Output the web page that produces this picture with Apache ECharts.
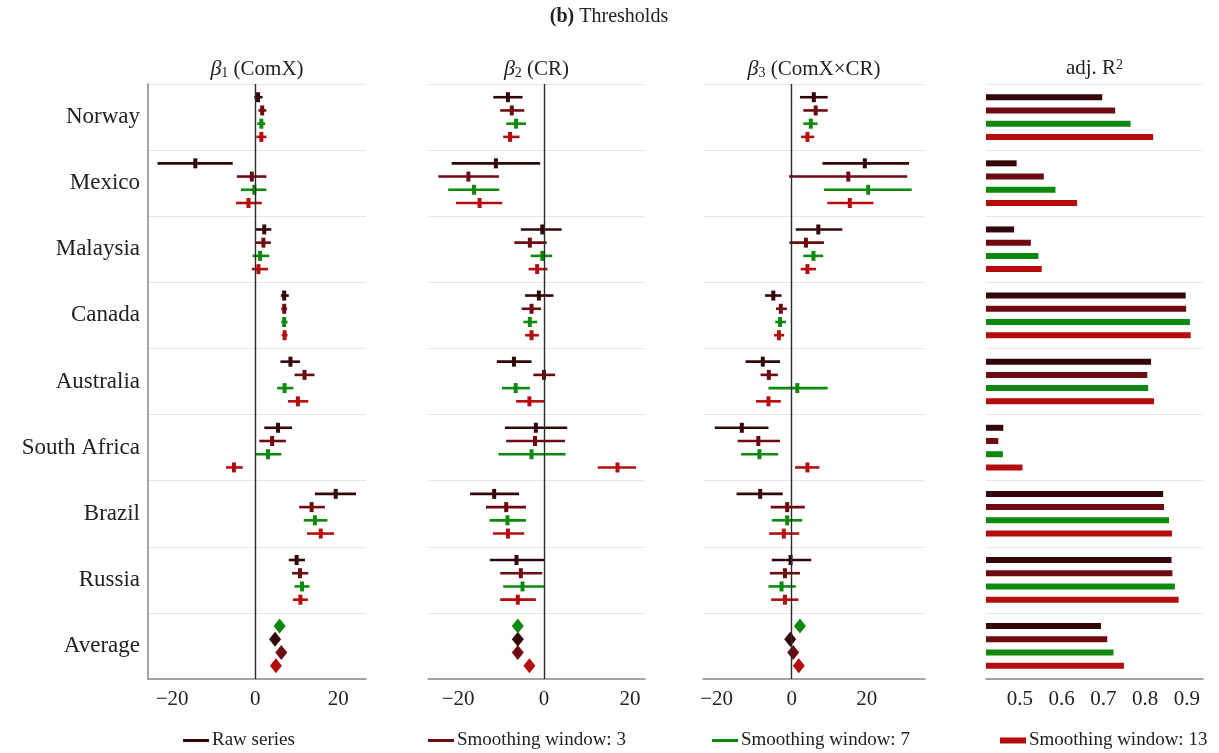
<!DOCTYPE html>
<html><head><meta charset="utf-8">
<script src="https://cdn.jsdelivr.net/npm/echarts@6/dist/echarts.min.js"></script>
<style>html,body{margin:0;padding:0;background:#fff}#c{width:1219px;height:753px}</style>
</head><body><div id="c"></div>
<script>
const countries = ['Norway','Mexico','Malaysia','Canada','Australia','South Africa','Brazil','Russia','Average'];
const seriesNames = ['Raw series','Smoothing window: 3','Smoothing window: 7','Smoothing window: 13'];
const xTicks = [-20, 0, 20];
const r2Ticks = [0.5, 0.6, 0.7, 0.8, 0.9];

// [estimate, lower, upper] for Norway..Russia
const b1Raw = [[0.7,-0.2,1.8],[-14.4,-23.5,-5.4],[2.2,0.2,3.9],[7.0,6.2,8.1],[8.5,6.1,10.8],[5.5,2.2,8.9],[19.4,14.4,24.3],[10.0,8.1,12.0]];
const b1W3 = [[1.7,0.8,2.7],[-0.8,-4.4,2.7],[2.0,0.1,3.8],[7.0,6.3,7.7],[11.9,9.5,14.3],[4.1,1.0,7.4],[13.6,10.6,16.8],[10.8,8.9,12.8]];
const b1W7 = [[1.5,0.5,2.4],[-0.2,-3.4,2.7],[1.2,-0.6,3.4],[7.0,6.3,7.8],[7.1,5.3,9.2],[3.1,0.0,6.3],[14.4,11.7,17.4],[11.3,9.5,13.1]];
const b1W13 = [[1.5,0.3,2.7],[-1.6,-4.6,1.6],[0.8,-0.8,3.1],[7.1,6.4,7.8],[10.3,7.9,12.8],[-5.1,-7.0,-3.0],[15.8,12.5,19.0],[10.9,9.1,12.7]];
const b1Avg = [4.8, 6.3, 5.9, 5.0]; // raw, w3, w7, w13

const b2Raw = [[-8.4,-11.8,-5.0],[-11.2,-21.5,-0.9],[-0.4,-5.4,4.1],[-1.2,-4.4,2.2],[-7.0,-11.0,-2.9],[-1.9,-9.1,5.4],[-11.6,-17.2,-5.8],[-6.4,-12.6,0.0]];
const b2W3 = [[-7.5,-10.2,-4.6],[-17.6,-24.6,-10.5],[-3.3,-6.9,0.6],[-2.9,-5.2,-0.7],[0.0,-2.5,2.6],[-2.1,-8.8,4.9],[-8.8,-13.5,-4.2],[-5.4,-10.2,-0.4]];
const b2W7 = [[-6.5,-8.8,-4.2],[-16.3,-22.3,-10.4],[-0.4,-3.1,1.9],[-3.3,-4.8,-1.6],[-6.6,-9.8,-3.3],[-2.9,-10.6,5.0],[-8.5,-12.7,-4.2],[-5.0,-9.5,0.0]];
const b2W13 = [[-7.9,-9.5,-5.7],[-15.0,-20.5,-9.7],[-1.6,-3.6,0.8],[-2.9,-4.4,-1.2],[-3.4,-6.5,0.0],[17.1,12.5,21.4],[-8.4,-11.9,-4.6],[-6.1,-10.2,-1.9]];
const b2Avg = [-6.1, -6.1, -6.1, -3.4];

const b3Raw = [[5.9,2.2,9.6],[19.5,8.2,31.3],[7.1,1.1,13.5],[-4.9,-7.1,-2.7],[-7.7,-12.3,-3.1],[-13.3,-20.5,-6.2],[-8.4,-14.7,-2.4],[-0.3,-5.3,5.2]];
const b3W3 = [[6.4,3.1,9.6],[15.1,-0.7,30.8],[3.8,-0.6,8.6],[-2.9,-4.2,-1.3],[-6.1,-8.3,-3.7],[-8.9,-14.4,-3.1],[-1.2,-5.6,3.5],[-1.8,-5.8,2.2]];
const b3W7 = [[5.1,3.1,6.9],[20.4,8.6,32.0],[5.8,3.1,8.4],[-3.1,-4.4,-1.5],[1.5,-6.2,9.6],[-8.6,-13.5,-3.6],[-1.2,-5.3,2.8],[-2.7,-6.2,1.1]];
const b3W13 = [[4.2,2.5,6.0],[15.5,9.5,21.8],[4.2,2.4,6.5],[-3.4,-4.7,-2.0],[-6.2,-9.5,-2.9],[4.2,0.9,7.4],[-2.1,-6.0,2.0],[-1.8,-5.5,1.8]];
const b3Avg = [-0.4, 0.4, 2.2, 1.9];

// adj. R2, Norway..Average
const r2Raw = [0.697,0.492,0.486,0.897,0.814,0.460,0.843,0.863,0.694];
const r2W3 = [0.728,0.557,0.526,0.898,0.805,0.448,0.845,0.865,0.709];
const r2W7 = [0.765,0.585,0.544,0.907,0.807,0.459,0.857,0.871,0.724];
const r2W13 = [0.819,0.637,0.552,0.909,0.821,0.506,0.864,0.880,0.749];

// order of the average diamonds within the last group (raw, w3, w7, w13)
const avgSlot = [2, 3, 1, 4];

const colors = ['#330609', '#6e0a12', '#0d8a0d', '#b50d0d'];
const FONT = "'Liberation Serif','DejaVu Serif',serif";
const R2MIN = 0.4186, R2MAX = 0.9384;

const grids = [
  {left:148, width:218, top:84, height:595},
  {left:428, width:217, top:84, height:595},
  {left:703, width:222, top:84, height:595},
  {left:986, width:217, top:84, height:595}
];
const xRanges = [[-25.8,26.7],[-27.0,23.5],[-23.65,35.55],[R2MIN,R2MAX]];

function errRender(params, api){
  const y = api.value(3);
  const lo = api.coord([api.value(1), y]);
  const hi = api.coord([api.value(2), y]);
  const pt = api.coord([api.value(0), y]);
  const c = api.visual('color');
  return {type:'group', children:[
    {type:'line', shape:{x1:lo[0],y1:lo[1],x2:hi[0],y2:hi[1]}, style:{stroke:c, lineWidth:2.6}},
    {type:'rect', shape:{x:pt[0]-2, y:pt[1]-5, width:4, height:10}, style:{fill:c}}
  ]};
}
function barRender(params, api){
  const y = api.value(1);
  const s = api.coord([R2MIN, y]);
  const e = api.coord([api.value(0), y]);
  return {type:'rect', shape:{x:s[0], y:s[1]-3, width:e[0]-s[0], height:6}, style:{fill:api.visual('color')}};
}

const xAxis = grids.map((g,i)=>({
  type:'value', gridIndex:i, min:xRanges[i][0], max:xRanges[i][1], position:'bottom',
  axisLine:{show:true, onZero:false, lineStyle:{color:'#8a8a8a', width:1.5}},
  axisTick:{show:false}, splitLine:{show:false},
  axisLabel:{customValues: i<3 ? xTicks : r2Ticks, fontFamily:FONT, fontSize:21, color:'#222', margin:10,
    formatter: v => i<3 ? String(v).replace('-', '\u2212') : v.toFixed(1)}
}));
const yAxis = grids.map((g,i)=>({
  type:'value', gridIndex:i, min:0, max:45, interval:5, inverse:true, position:'left',
  axisLine:{show:i===0, onZero:false, lineStyle:{color:'#8a8a8a', width:1.5}},
  axisTick:{show:false}, axisLabel:{show:false},
  splitLine:{show:true, lineStyle:{color:'#e6e6e6', width:1}}
}));
yAxis.push({
  type:'value', gridIndex:0, min:0, max:45, inverse:true, position:'left',
  axisLine:{show:false, onZero:false}, axisTick:{show:false}, splitLine:{show:false},
  axisLabel:{customValues: countries.map((c,g)=>g*5+2.5), fontFamily:FONT, fontSize:23, color:'#222', margin:8,
    formatter: v => countries[Math.round((v-2.5)/5)]}
});

const series = [];
const betaSets = [[b1Raw,b1W3,b1W7,b1W13,b1Avg],[b2Raw,b2W3,b2W7,b2W13,b2Avg],[b3Raw,b3W3,b3W7,b3W13,b3Avg]];
betaSets.forEach((set,p)=>{
  for(let k=0;k<4;k++){
    const s = {
      type:'custom', name:seriesNames[k], xAxisIndex:p, yAxisIndex:p, renderItem:errRender,
      data:set[k].map((d,g)=>[d[0],d[1],d[2],g*5+k+1]), encode:{x:[0,1,2],y:3},
      itemStyle:{color:colors[k]}, z:3, silent:true
    };
    if(k===0){
      s.markLine = {silent:true, symbol:'none', label:{show:false}, animation:false,
        lineStyle:{color:'#2a2a2a', width:1.4, type:'solid'}, data:[{xAxis:0}]};
    }
    series.push(s);
    series.push({type:'scatter', name:seriesNames[k], xAxisIndex:p, yAxisIndex:p, symbol:'diamond', symbolSize:[12,15],
      data:[[set[4][k], 40+avgSlot[k]]], itemStyle:{color:colors[k], opacity:1}, z:4, silent:true});
  }
});
[r2Raw,r2W3,r2W7,r2W13].forEach((arr,k)=>{
  series.push({type:'custom', name:seriesNames[k], xAxisIndex:3, yAxisIndex:3, renderItem:barRender,
    data:arr.map((v,g)=>[v, g*5+k+1]), encode:{x:0,y:1}, itemStyle:{color:colors[k]}, silent:true});
});

const panelTitles = [
  '{g|β}{s|1}{t| (ComX)}',
  '{g|β}{s|2}{t| (CR)}',
  '{g|β}{s|3}{t| (ComX×CR)}',
  '{t|adj. R}{p|2}'
];
const rich = {
  g:{fontFamily:FONT, fontSize:22, fontStyle:'italic', fontWeight:'normal', color:'#222'},
  s:{fontFamily:FONT, fontSize:14, fontWeight:'normal', color:'#222', verticalAlign:'bottom'},
  t:{fontFamily:FONT, fontSize:21, fontWeight:'normal', color:'#222'},
  p:{fontFamily:FONT, fontSize:14, fontWeight:'normal', color:'#222', verticalAlign:'top'},
  b:{fontFamily:FONT, fontSize:20, fontWeight:'bold', color:'#222'},
  n:{fontFamily:FONT, fontSize:20, fontWeight:'normal', color:'#222'}
};
const title = [{text:'{b|(b)} {n|Thresholds}', left:609, top:7, textAlign:'center', padding:0,
  textStyle:{fontWeight:'normal', rich}}];
panelTitles.forEach((t,i)=>{
  title.push({text:t, left:grids[i].left+grids[i].width/2, top:58, textAlign:'center', padding:0,
    textStyle:{fontWeight:'normal', rich}});
});

const legendLeft = [183, 428, 712, 1000];
const legendH = [3, 3, 3, 6];
const legend = seriesNames.map((n,k)=>({
  data:[{name:n, icon:'rect', itemStyle:{color:colors[k]}}], left:legendLeft[k], top:731, padding:0,
  itemWidth:26, itemHeight:legendH[k], selectedMode:false,
  textStyle:{fontFamily:FONT, fontSize:19, color:'#222', padding:[0,0,0,-2]}
}));

const chart = echarts.init(document.getElementById('c'));
chart.setOption({animation:false, backgroundColor:'#fff', title, legend, grid:grids, xAxis, yAxis, series});
</script>
</body></html>
